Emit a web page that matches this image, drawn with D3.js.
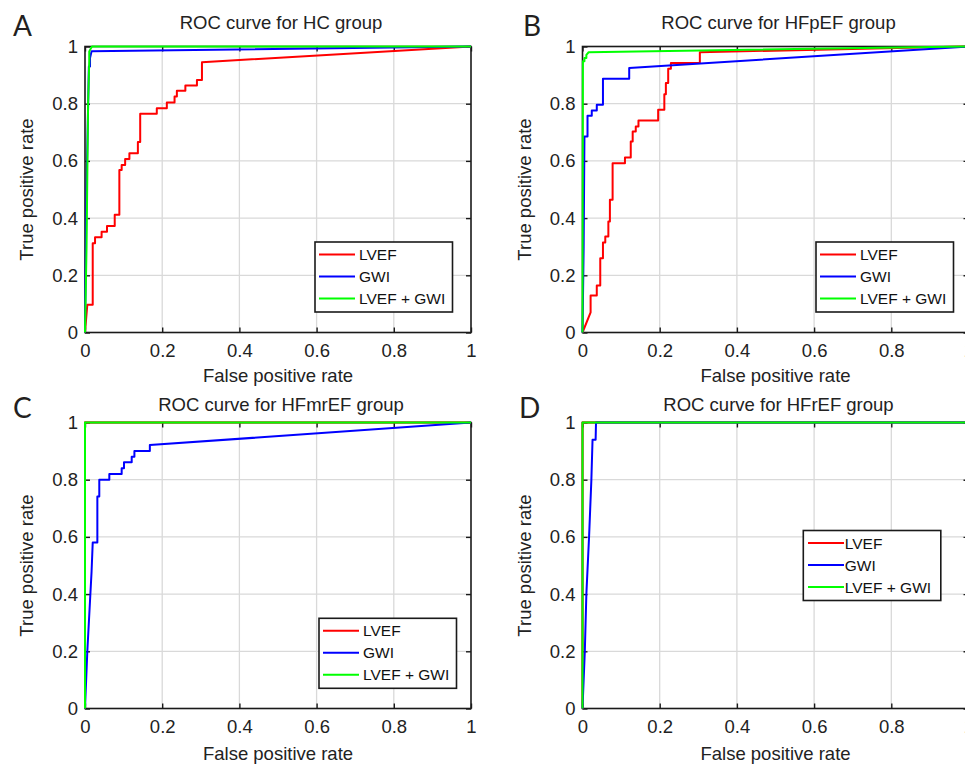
<!DOCTYPE html>
<html>
<head>
    <meta charset="utf-8">
    <title>roc-curves-four-groups</title>
    <style>
body { margin: 0; background: #fff; }
svg { display: block; font-family: "Liberation Sans", Arial, sans-serif; }
.grid line { stroke: #d9d9d9; stroke-width: 1.3; }
.frame { fill: none; stroke: #1a1a1a; stroke-width: 1.6; }
.axis path { display: none; }
.axis line { stroke: #1a1a1a; stroke-width: 1.4; }
.axis text { font-size: 18.5px; fill: #222; font-family: "Liberation Sans", Arial, sans-serif; }
.curve { fill: none; stroke-width: 2; stroke-linejoin: round; }
.label { font-size: 18.5px; fill: #222; }
.letter { font-family: Lato, "Open Sans", sans-serif; font-size: 28px; fill: #231f20; }
.legend rect { fill: #fff; stroke: #1a1a1a; stroke-width: 1.6; }
.legend text { font-size: 15.5px; fill: #111; }
</style>
</head>
<body>
<script src="https://d3js.org/d3.v7.min.js"></script>
<script>
// tick values shared by both axes of every panel
var tickValues = [0, 0.2, 0.4, 0.6, 0.8, 1];
var tickLabels = ["0", "0.2", "0.4", "0.6", "0.8", "1"];

var seriesNames = ["LVEF", "GWI", "LVEF + GWI"];
var seriesColors = ["#ff0000", "#0000ff", "#00ff00"];

var panelLetters = ["A", "B", "C", "D"];
var panelTitles = ["ROC curve for HC group", "ROC curve for HFpEF group",
                   "ROC curve for HFmrEF group", "ROC curve for HFrEF group"];

// [false positive rate, true positive rate]
var hcLVEF = [[0,0],[0.006,0.097],[0.020,0.097],[0.020,0.312],[0.026,0.312],[0.026,0.333],[0.043,0.333],[0.043,0.352],
    [0.057,0.352],[0.057,0.372],[0.077,0.372],[0.077,0.412],[0.089,0.412],[0.089,0.568],[0.095,0.568],[0.095,0.586],
    [0.104,0.586],[0.104,0.607],[0.115,0.607],[0.115,0.627],[0.137,0.627],[0.137,0.666],[0.143,0.666],[0.143,0.765],
    [0.186,0.765],[0.186,0.784],[0.212,0.784],[0.212,0.804],[0.232,0.804],[0.232,0.825],[0.238,0.825],[0.238,0.845],
    [0.260,0.845],[0.260,0.864],[0.290,0.864],[0.290,0.883],[0.303,0.883],[0.303,0.945],[1,1]];
var hcGWI = [[0,0],[0.004,0.5],[0.010,0.93],[0.013,0.93],[0.013,0.96],[0.017,0.983],[1,1]];
var hcBoth = [[0,0],[0.004,0.3],[0.008,0.8],[0.011,0.95],[0.011,0.983],[0.018,1],[1,1]];

var pefLVEF = [[0,0],[0.021,0.07],[0.021,0.129],[0.037,0.129],[0.037,0.164],[0.046,0.164],[0.046,0.26],[0.053,0.26],
    [0.053,0.315],[0.059,0.315],[0.059,0.336],[0.067,0.336],[0.067,0.388],[0.071,0.388],[0.071,0.464],[0.078,0.464],
    [0.078,0.592],[0.110,0.592],[0.110,0.612],[0.125,0.612],[0.125,0.668],[0.130,0.668],[0.130,0.703],[0.138,0.703],
    [0.138,0.720],[0.145,0.720],[0.145,0.741],[0.196,0.741],[0.196,0.779],[0.212,0.779],[0.212,0.833],[0.216,0.833],
    [0.216,0.872],[0.222,0.872],[0.222,0.922],[0.229,0.922],[0.229,0.942],[0.304,0.942],[0.304,0.98],[1,1]];
var pefGWI = [[0,0],[0.003,0.3],[0.005,0.685],[0.013,0.685],[0.013,0.758],[0.024,0.758],[0.024,0.776],[0.037,0.776],
    [0.037,0.796],[0.053,0.796],[0.053,0.887],[0.121,0.887],[0.121,0.925],[1,1]];
var pefBoth = [[0,0],[0.001,0.948],[0.005,0.948],[0.005,0.96],[0.010,0.96],[0.010,0.971],[0.016,0.98],[1,1]];

var mrLVEF = [[0,0],[0,1],[1,1]];
var mrGWI = [[0,0],[0.006,0.2],[0.017,0.478],[0.020,0.58],[0.032,0.58],[0.032,0.741],[0.037,0.741],[0.037,0.80],
    [0.063,0.80],[0.063,0.82],[0.095,0.82],[0.095,0.84],[0.101,0.84],[0.101,0.861],[0.121,0.861],[0.121,0.88],
    [0.128,0.88],[0.128,0.90],[0.168,0.90],[0.168,0.921],[1,1]];
var mrBoth = [[0,0],[0,1],[1,1]];

var refLVEF = [[0,0],[0,1],[1,1]];
var refGWI = [[0,0],[0.006,0.2],[0.010,0.4],[0.017,0.6],[0.023,0.8],[0.026,0.94],[0.034,0.94],[0.035,1],[1,1]];
var refBoth = [[0,0],[0,1],[1,1]];

var panelSeries = [[hcLVEF, hcGWI, hcBoth], [pefLVEF, pefGWI, pefBoth],
                   [mrLVEF, mrGWI, mrBoth], [refLVEF, refGWI, refBoth]];

// layout of the four axes (page pixels)
var width = 386, height = 286;
var layout = [
    { left: 85,    top: 46.5,  letterX: 13,  letterY: 36,  titleY: -18, xlabY: 49,   lg: { x: 230,   y: 195.5, line: 4,   text: 44 } },
    { left: 582.5, top: 46.5,  letterX: 523, letterY: 36,  titleY: -18, xlabY: 49,   lg: { x: 233.5, y: 195.5, line: 4,   text: 44 } },
    { left: 85,    top: 422.5, letterX: 13,  letterY: 418, titleY: -12, xlabY: 51.5, lg: { x: 234,   y: 195.8, line: 4,   text: 44 } },
    { left: 582.5, top: 422.5, letterX: 519, letterY: 418, titleY: -12, xlabY: 51.5, lg: { x: 220.8, y: 108,   line: 4.7, text: 41.5 } }
];

var svg = d3.select("body").append("svg")
    .attr("width", 965)
    .attr("height", 766);

var x = d3.scaleLinear().domain([0, 1]).range([0, width]);
var y = d3.scaleLinear().domain([0, 1]).range([height, 0]);
var line = d3.line().x(function (d) { return x(d[0]); }).y(function (d) { return y(d[1]); });
var inner = tickValues.slice(1, -1);
var fmt = function (d, i) { return tickLabels[i]; };

layout.forEach(function (p, i) {
    svg.append("text").attr("class", "letter")
        .attr("x", p.letterX).attr("y", p.letterY)
        .text(panelLetters[i]);

    var g = svg.append("g").attr("transform", "translate(" + p.left + "," + p.top + ")");

    // grid
    var grid = g.append("g").attr("class", "grid");
    grid.selectAll(".gx").data(inner).enter().append("line")
        .attr("x1", x).attr("x2", x).attr("y1", 0).attr("y2", height);
    grid.selectAll(".gy").data(inner).enter().append("line")
        .attr("y1", y).attr("y2", y).attr("x1", 0).attr("x2", width);

    g.append("rect").attr("class", "frame").attr("width", width).attr("height", height);

    // ticks point inwards on all four sides
    g.append("g").attr("class", "axis")
        .attr("transform", "translate(0," + height + ")")
        .call(d3.axisBottom(x).tickValues(tickValues).tickFormat(fmt).tickSizeInner(-5).tickSizeOuter(0).tickPadding(11));
    g.append("g").attr("class", "axis")
        .call(d3.axisLeft(y).tickValues(tickValues).tickFormat(fmt).tickSizeInner(-5).tickSizeOuter(0).tickPadding(7));
    g.append("g").attr("class", "axis")
        .call(d3.axisTop(x).tickValues(tickValues).tickFormat("").tickSizeInner(-5).tickSizeOuter(0));
    g.append("g").attr("class", "axis")
        .attr("transform", "translate(" + width + ",0)")
        .call(d3.axisRight(y).tickValues(tickValues).tickFormat("").tickSizeInner(-5).tickSizeOuter(0));

    // curves, LVEF first so the combined model sits on top
    g.selectAll(".curve").data(panelSeries[i]).enter().append("path")
        .attr("class", "curve")
        .attr("stroke", function (d, k) { return seriesColors[k]; })
        .attr("d", line);

    g.append("text").attr("class", "label")
        .attr("x", width / 2 + 3).attr("y", p.titleY)
        .attr("text-anchor", "middle")
        .text(panelTitles[i]);
    g.append("text").attr("class", "label")
        .attr("x", width / 2).attr("y", height + p.xlabY)
        .attr("text-anchor", "middle")
        .text("False positive rate");
    g.append("text").attr("class", "label")
        .attr("transform", "rotate(-90)")
        .attr("x", -height / 2).attr("y", -52)
        .attr("text-anchor", "middle")
        .text("True positive rate");

    // legend
    var lg = g.append("g").attr("class", "legend")
        .attr("transform", "translate(" + p.lg.x + "," + p.lg.y + ")");
    lg.append("rect").attr("width", 137.5).attr("height", 70);
    var rows = lg.selectAll(".row").data(seriesNames).enter().append("g")
        .attr("transform", function (d, k) { return "translate(0," + (12.5 + k * 22) + ")"; });
    rows.append("line")
        .attr("x1", p.lg.line).attr("x2", p.lg.line + 36)
        .attr("stroke", function (d, k) { return seriesColors[k]; })
        .attr("stroke-width", 2);
    rows.append("text")
        .attr("x", p.lg.text).attr("dy", "0.36em")
        .text(function (d) { return d; });
});
</script>
</body>
</html>
